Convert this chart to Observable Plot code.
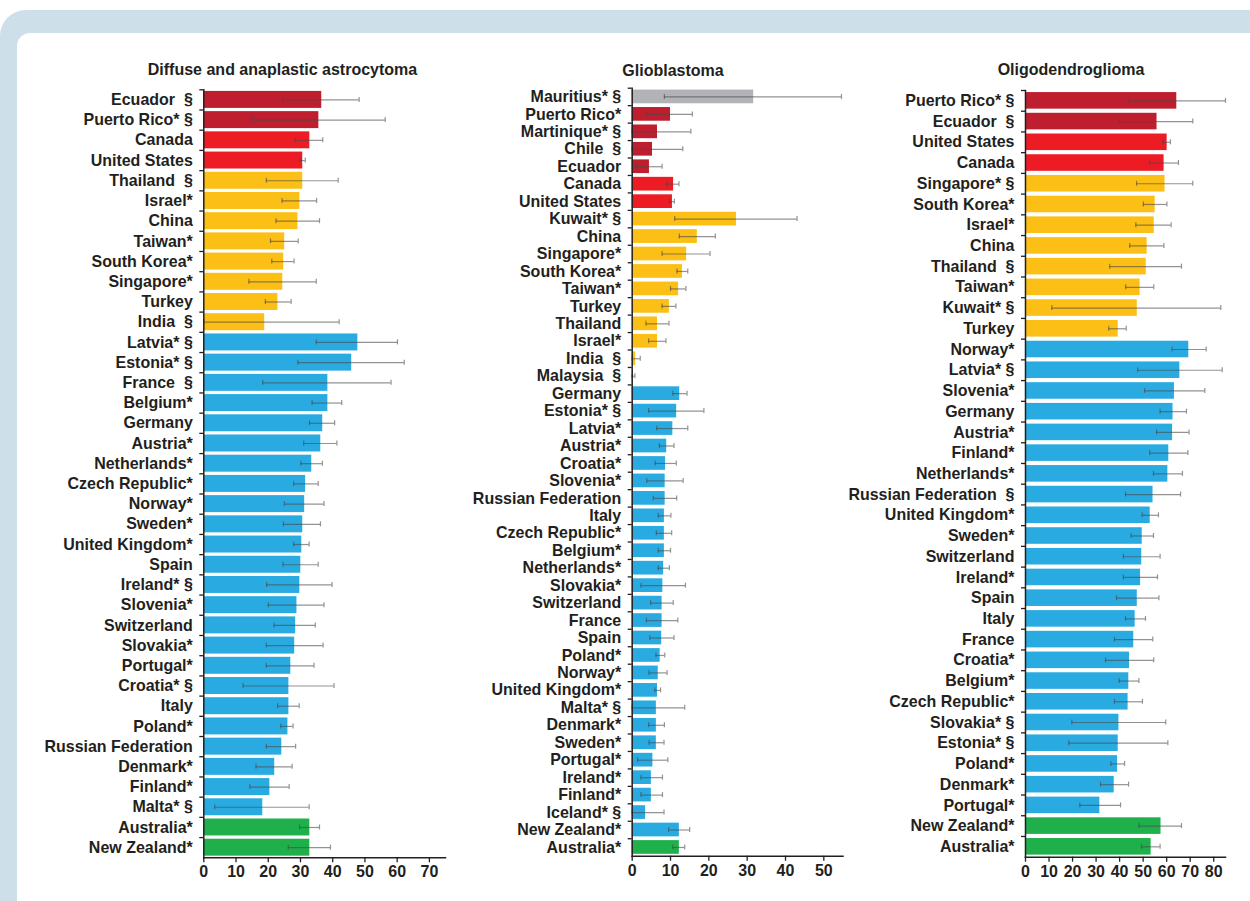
<!DOCTYPE html>
<html>
<head>
<meta charset="utf-8">
<script src="https://cdn.jsdelivr.net/npm/d3@7"></script>
<script src="https://cdn.jsdelivr.net/npm/@observablehq/plot@0.6"></script>
<style>
  html, body { margin: 0; padding: 0; background: #ffffff; }
  #page { position: relative; width: 1250px; height: 901px; overflow: hidden; font-family: "Liberation Sans", Arial, sans-serif; }
  #outer { position: absolute; left: 0; top: 10px; width: 1300px; height: 950px; background: #cddfe9; border-top-left-radius: 26px; }
  #inner { position: absolute; left: 17px; top: 33px; width: 1300px; height: 950px; background: #ffffff; border-top-left-radius: 13px; }
  .title { position: absolute; font-weight: bold; font-size: 16px; color: #231f20; transform: translate(-50%, -50%); white-space: nowrap; }
  .panel { position: absolute; top: 80px; line-height: 0; }
  .panel svg { display: block; }
</style>
</head>
<body>
<div id="page">
  <div id="outer"></div>
  <div id="inner"></div>
</div>
<script>
// ---- Region colours ----
const regionNames = ["Latin America & Caribbean", "North America", "Asia", "Europe", "Oceania", "Africa"];
const regionColors = ["#be1e2d", "#ed1c24", "#fbbf15", "#29abe2", "#1fb04c", "#b1b3b6"];

// ---- Panel titles ----
const titles = ["Diffuse and anaplastic astrocytoma", "Glioblastoma", "Oligodendroglioma"];

// ---- Diffuse and anaplastic astrocytoma ----
const astroNames = ["Ecuador  §", "Puerto Rico* §", "Canada", "United States", "Thailand  §", "Israel*", "China", "Taiwan*", "South Korea*", "Singapore*", "Turkey", "India  §", "Latvia* §", "Estonia* §", "France  §", "Belgium*", "Germany", "Austria*", "Netherlands*", "Czech Republic*", "Norway*", "Sweden*", "United Kingdom*", "Spain", "Ireland* §", "Slovenia*", "Switzerland", "Slovakia*", "Portugal*", "Croatia* §", "Italy", "Poland*", "Russian Federation", "Denmark*", "Finland*", "Malta* §", "Australia*", "New Zealand*"];
const astroRegion = ["Latin America & Caribbean", "Latin America & Caribbean", "North America", "North America",
  "Asia", "Asia", "Asia", "Asia", "Asia", "Asia", "Asia", "Asia",
  "Europe", "Europe", "Europe", "Europe", "Europe", "Europe", "Europe", "Europe", "Europe", "Europe", "Europe", "Europe",
  "Europe", "Europe", "Europe", "Europe", "Europe", "Europe", "Europe", "Europe", "Europe", "Europe", "Europe", "Europe",
  "Oceania", "Oceania"];
const astroValue = [36.6, 35.7, 32.9, 30.7, 30.7, 29.8, 29.2, 25.1, 24.8, 24.5, 23.0, 18.9, 47.8, 45.9, 38.5, 38.5, 36.9, 36.3, 33.5, 31.6, 31.3, 30.7, 30.4, 30.1, 29.8, 28.9, 28.5, 28.2, 27.0, 26.4, 26.4, 26.1, 24.2, 22.0, 20.5, 18.3, 32.9, 32.9];
const astroLow = [24.6, 15.1, 28.3, 29.8, 19.4, 24.3, 22.4, 20.7, 21.1, 14.0, 19.1, 0, 34.9, 29.2, 18.3, 33.6, 32.8, 31.0, 30.1, 27.9, 25.0, 24.7, 27.9, 24.6, 19.5, 20.0, 21.8, 19.4, 19.4, 12.2, 22.9, 23.9, 19.4, 16.2, 14.3, 3.4, 29.7, 26.2];
const astroHigh = [48.2, 56.3, 36.9, 31.5, 41.7, 35.0, 35.9, 29.3, 28.0, 34.9, 27.1, 42.0, 60.1, 62.2, 58.1, 42.8, 40.6, 41.3, 36.8, 35.5, 37.3, 36.2, 32.7, 35.5, 39.8, 37.3, 34.6, 37.0, 34.2, 40.4, 29.6, 27.7, 28.5, 27.4, 26.5, 32.7, 35.9, 39.3];
const astroTicks = [0, 10, 20, 30, 40, 50, 60, 70];

// ---- Glioblastoma ----
const gbmNames = ["Mauritius* §", "Puerto Rico*", "Martinique* §", "Chile  §", "Ecuador", "Canada", "United States", "Kuwait* §", "China", "Singapore*", "South Korea*", "Taiwan*", "Turkey", "Thailand", "Israel*", "India  §", "Malaysia  §", "Germany", "Estonia* §", "Latvia*", "Austria*", "Croatia*", "Slovenia*", "Russian Federation", "Italy", "Czech Republic*", "Belgium*", "Netherlands*", "Slovakia*", "Switzerland", "France", "Spain", "Poland*", "Norway*", "United Kingdom*", "Malta* §", "Denmark*", "Sweden*", "Portugal*", "Ireland*", "Finland*", "Iceland* §", "New Zealand*", "Australia*"];
const gbmRegion = ["Africa",
  "Latin America & Caribbean", "Latin America & Caribbean", "Latin America & Caribbean", "Latin America & Caribbean",
  "North America", "North America",
  "Asia", "Asia", "Asia", "Asia", "Asia", "Asia", "Asia", "Asia", "Asia", "Asia",
  "Europe", "Europe", "Europe", "Europe", "Europe", "Europe", "Europe", "Europe", "Europe", "Europe", "Europe", "Europe", "Europe",
  "Europe", "Europe", "Europe", "Europe", "Europe", "Europe", "Europe", "Europe", "Europe", "Europe", "Europe", "Europe", "Europe",
  "Oceania", "Oceania"];
const gbmValue = [31.7, 10.0, 6.6, 5.3, 4.5, 10.8, 10.5, 27.2, 17.0, 14.2, 13.1, 12.1, 9.7, 6.6, 6.6, 0.9, 0.3, 12.4, 11.6, 10.6, 9.0, 8.7, 8.6, 8.6, 8.4, 8.4, 8.4, 8.2, 8.0, 7.8, 7.8, 7.7, 7.3, 6.8, 6.6, 6.3, 6.3, 6.3, 5.4, 5.0, 5.0, 3.5, 12.3, 12.3];
const gbmLow = [8.4, 3.9, 0, 0, 1.0, 9.0, 9.8, 11.1, 12.3, 7.8, 11.7, 10.0, 7.8, 3.6, 4.3, 0, 0, 10.6, 4.3, 6.4, 7.1, 6.0, 3.8, 5.5, 6.8, 6.3, 6.8, 6.8, 2.3, 4.8, 3.7, 4.6, 6.2, 4.4, 5.9, 0, 4.3, 4.4, 1.4, 2.3, 2.3, 0, 9.5, 10.6];
const gbmHigh = [54.6, 15.7, 15.3, 13.2, 7.8, 12.2, 11.0, 43.0, 21.7, 20.3, 14.5, 14.0, 11.4, 9.6, 8.8, 2.1, 0.7, 14.3, 18.7, 14.5, 10.9, 11.5, 13.3, 11.6, 10.1, 10.3, 10.0, 9.7, 13.9, 10.7, 11.9, 10.9, 8.5, 9.1, 7.4, 13.7, 8.4, 8.3, 9.3, 7.9, 7.9, 8.3, 15.0, 13.7];
const gbmTicks = [0, 10, 20, 30, 40, 50];

// ---- Oligodendroglioma ----
const oligoNames = ["Puerto Rico* §", "Ecuador  §", "United States", "Canada", "Singapore* §", "South Korea*", "Israel*", "China", "Thailand  §", "Taiwan*", "Kuwait* §", "Turkey", "Norway*", "Latvia* §", "Slovenia*", "Germany", "Austria*", "Finland*", "Netherlands*", "Russian Federation  §", "United Kingdom*", "Sweden*", "Switzerland", "Ireland*", "Spain", "Italy", "France", "Croatia*", "Belgium*", "Czech Republic*", "Slovakia* §", "Estonia* §", "Poland*", "Denmark*", "Portugal*", "New Zealand*", "Australia*"];
const oligoRegion = ["Latin America & Caribbean", "Latin America & Caribbean", "North America", "North America",
  "Asia", "Asia", "Asia", "Asia", "Asia", "Asia", "Asia", "Asia",
  "Europe", "Europe", "Europe", "Europe", "Europe", "Europe", "Europe", "Europe", "Europe", "Europe", "Europe", "Europe",
  "Europe", "Europe", "Europe", "Europe", "Europe", "Europe", "Europe", "Europe", "Europe", "Europe", "Europe",
  "Oceania", "Oceania"];
const oligoValue = [64.3, 55.9, 60.2, 58.9, 59.3, 55.1, 54.7, 51.7, 51.3, 48.7, 47.5, 39.4, 69.4, 65.6, 63.3, 62.7, 62.5, 60.9, 60.5, 54.2, 53.0, 49.6, 49.4, 48.9, 47.5, 46.6, 46.0, 44.2, 43.9, 43.6, 39.7, 39.4, 39.1, 37.7, 31.6, 57.6, 53.4];
const oligoLow = [44.1, 39.9, 58.4, 52.8, 47.2, 50.1, 46.9, 44.3, 35.8, 42.6, 11.2, 35.4, 62.3, 47.7, 50.6, 57.2, 55.7, 52.8, 54.4, 42.5, 49.6, 44.9, 41.6, 41.6, 38.7, 42.5, 37.8, 34.0, 39.8, 37.8, 19.7, 18.4, 36.3, 31.9, 23.1, 48.3, 49.3];
const oligoHigh = [85.0, 71.1, 61.6, 65.0, 71.1, 60.1, 61.9, 58.8, 66.3, 54.5, 83.0, 42.8, 76.8, 83.6, 76.2, 68.4, 69.5, 69.0, 66.7, 65.9, 56.5, 54.4, 57.2, 56.1, 56.7, 51.0, 54.1, 54.5, 48.2, 49.7, 59.6, 60.5, 42.1, 43.8, 40.4, 66.3, 57.2];
const oligoTicks = [0, 10, 20, 30, 40, 50, 60, 70, 80];

const ink = "#231f20";
const fmtLabel = s => s.replace(/  /g, "\u00a0\u00a0");

function makePanel(cfg) {
  const data = cfg.names.map((name, i) => ({
    name, value: cfg.value[i], low: cfg.low[i], high: cfg.high[i], region: cfg.region[i]
  }));
  const n = data.length;
  const innerH = cfg.areaHeight;
  const step = innerH / n; // paddingOuter = paddingInner / 2
  const bandwidth = step * (1 - cfg.pad);
  const capInset = Math.max(0, (bandwidth - 5) / 2);
  const height = cfg.marginTop + innerH + cfg.marginBottom;
  return Plot.plot({
    width: cfg.width,
    height,
    marginLeft: cfg.marginLeft,
    marginRight: cfg.marginRight,
    marginTop: cfg.marginTop,
    marginBottom: cfg.marginBottom,
    style: { fontFamily: "'Liberation Sans', Arial, sans-serif", fontWeight: "bold", color: ink, background: "transparent", overflow: "visible" },
    x: { domain: [0, cfg.xMax], label: null },
    y: { domain: cfg.names, paddingInner: cfg.pad, paddingOuter: cfg.pad / 2, round: false, label: null },
    color: { domain: regionNames, range: regionColors },
    marks: [
      Plot.barX(data, { y: "name", x: "value", fill: "region" }),
      Plot.ruleY(data, { y: "name", x1: "low", x2: "high", stroke: "#4a4a4a", strokeOpacity: 0.6, strokeWidth: 1.2 }),
      Plot.tickX(data, { y: "name", x: "low", stroke: "#4a4a4a", strokeOpacity: 0.6, strokeWidth: 1.2, inset: capInset }),
      Plot.tickX(data, { y: "name", x: "high", stroke: "#4a4a4a", strokeOpacity: 0.6, strokeWidth: 1.2, inset: capInset }),
      Plot.axisY({ tickSize: 0, tickPadding: 11, fontSize: 16, fill: ink, tickFormat: fmtLabel }),
      Plot.axisY({ text: null, tickSize: 4, dy: -step / 2, stroke: ink, strokeWidth: 1.3 }),
      Plot.axisX({ ticks: cfg.ticks, tickSize: 5, tickPadding: 3, fontSize: 16, fill: ink, stroke: ink, strokeWidth: 1.3, tickFormat: d3.format("d") }),
      Plot.frame({ anchor: "left", stroke: ink, strokeWidth: 1.5 }),
      Plot.frame({ anchor: "bottom", stroke: ink, strokeWidth: 1.5 })
    ]
  });
}

const page = document.getElementById("page");

const panels = [
  { left: 40, titleX: 282.5, titleY: 70,
    names: astroNames, value: astroValue, low: astroLow, high: astroHigh, region: astroRegion, ticks: astroTicks,
    xMax: 75, width: 415, marginLeft: 163.3, marginRight: 10, marginTop: 9.3, areaHeight: 768, marginBottom: 40, pad: 0.16 },
  { left: 470, titleX: 673, titleY: 71,
    names: gbmNames, value: gbmValue, low: gbmLow, high: gbmHigh, region: gbmRegion, ticks: gbmTicks,
    xMax: 55, width: 382.5, marginLeft: 161.7, marginRight: 10, marginTop: 7.7, areaHeight: 768, marginBottom: 40, pad: 0.215 },
  { left: 840, titleX: 1071, titleY: 70,
    names: oligoNames, value: oligoValue, low: oligoLow, high: oligoHigh, region: oligoRegion, ticks: oligoTicks,
    xMax: 85, width: 397, marginLeft: 185, marginRight: 12, marginTop: 10, areaHeight: 766.7, marginBottom: 40, pad: 0.2 }
];

panels.forEach((cfg, i) => {
  const t = document.createElement("div");
  t.className = "title";
  t.style.left = cfg.titleX + "px";
  t.style.top = cfg.titleY + "px";
  t.textContent = titles[i];
  page.appendChild(t);

  const holder = document.createElement("div");
  holder.className = "panel";
  holder.style.left = cfg.left + "px";
  holder.appendChild(makePanel(cfg));
  page.appendChild(holder);
});
</script>
</body>
</html>
